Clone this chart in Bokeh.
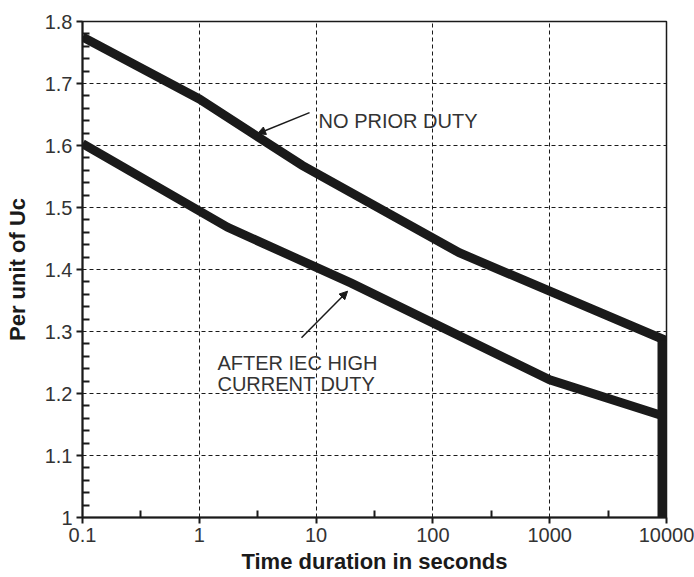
from bokeh.plotting import figure
from bokeh.models import Range1d, FixedTicker, CustomJSTickFormatter, Label, Arrow, NormalHead
from bokeh.embed import file_html
from bokeh.resources import INLINE

# ---- data ----
x_ticks = [0.1, 1, 10, 100, 1000, 10000]
x_minor = [0.316, 3.16, 31.6, 316, 3162]
y_ticks = [1.0, 1.1, 1.2, 1.3, 1.4, 1.5, 1.6, 1.7, 1.8]
y_minor = [1.02, 1.04, 1.06, 1.08, 1.12, 1.14, 1.16, 1.18, 1.22, 1.24, 1.26, 1.28,
           1.32, 1.34, 1.36, 1.38, 1.42, 1.44, 1.46, 1.48, 1.52, 1.54, 1.56, 1.58,
           1.62, 1.64, 1.66, 1.68, 1.72, 1.74, 1.76, 1.78]

no_prior_t = [0.1, 1, 7.6, 168, 10000]
no_prior_v = [1.775, 1.675, 1.568, 1.427, 1.285]

after_iec_t = [0.1, 1.75, 20, 1000, 10000]
after_iec_v = [1.603, 1.468, 1.378, 1.222, 1.162]

end_t = [10000, 10000]
end_v = [1.0, 1.285]

INK = "#1a1a1a"
TXT = "#333333"
FONT = "Liberation Sans"

p = figure(width=694, height=577, x_axis_type="log",
           x_range=Range1d(0.1, 10000), y_range=Range1d(1.0, 1.8),
           output_backend="svg", toolbar_location=None,
           min_border_left=82, min_border_right=28, min_border_top=21, min_border_bottom=60)
p.background_fill_color = "white"
p.border_fill_color = "white"
p.outline_line_color = INK
p.outline_line_width = 1.5

p.xaxis.ticker = FixedTicker(ticks=x_ticks, minor_ticks=x_minor)
p.yaxis.ticker = FixedTicker(ticks=y_ticks, minor_ticks=y_minor)
p.xaxis.formatter = CustomJSTickFormatter(code="return tick >= 1 ? tick.toFixed(0) : tick.toString();")
p.yaxis.formatter = CustomJSTickFormatter(code="return (Math.round(tick*10)/10).toString();")

for ax in (p.xaxis, p.yaxis):
    ax.axis_line_color = INK
    ax.axis_line_width = 2
    ax.major_tick_line_color = INK
    ax.major_tick_line_width = 2
    ax.minor_tick_line_color = INK
    ax.minor_tick_line_width = 2
    ax.major_tick_in = 0
    ax.major_tick_out = 6
    ax.minor_tick_in = 7
    ax.minor_tick_out = 0
    ax.major_label_text_font = FONT
    ax.major_label_text_font_size = "20px"
    ax.major_label_text_color = TXT
    ax.major_label_standoff = 4
    ax.axis_label_text_font = FONT
    ax.axis_label_text_font_style = "bold"
    ax.axis_label_text_font_size = "22px"
    ax.axis_label_text_color = INK

p.xaxis.axis_label = "Time duration in seconds"
p.yaxis.axis_label = "Per unit of Uc"
p.xaxis.axis_label_standoff = 4
p.yaxis.axis_label_standoff = 12

for g in (p.xgrid, p.ygrid):
    g.grid_line_color = INK
    g.grid_line_width = 1
    g.grid_line_dash = "4 3"

p.line(no_prior_t, no_prior_v, line_color=INK, line_width=9, line_join="miter")
p.line(after_iec_t, after_iec_v, line_color=INK, line_width=9, line_join="miter")
p.line(end_t, end_v, line_color=INK, line_width=18)

p.add_layout(Label(x=10.5, y=1.640, text="NO PRIOR DUTY", text_font=FONT,
                   text_font_size="20px", text_color=TXT, text_baseline="alphabetic"))
p.add_layout(Label(x=1.43, y=1.250, text="AFTER IEC HIGH", text_font=FONT,
                   text_font_size="20px", text_color=TXT, text_baseline="alphabetic"))
p.add_layout(Label(x=1.43, y=1.216, text="CURRENT DUTY", text_font=FONT,
                   text_font_size="20px", text_color=TXT, text_baseline="alphabetic"))

p.add_layout(Arrow(x_start=8.79, y_start=1.653, x_end=3.15, y_end=1.619,
                   line_color=INK, line_width=1.5,
                   end=NormalHead(size=8, fill_color=INK, line_color=INK)))
p.add_layout(Arrow(x_start=7.5, y_start=1.290, x_end=18.6, y_end=1.365,
                   line_color=INK, line_width=1.5,
                   end=NormalHead(size=8, fill_color=INK, line_color=INK)))

open("out.html", "w").write(file_html(p, INLINE))
